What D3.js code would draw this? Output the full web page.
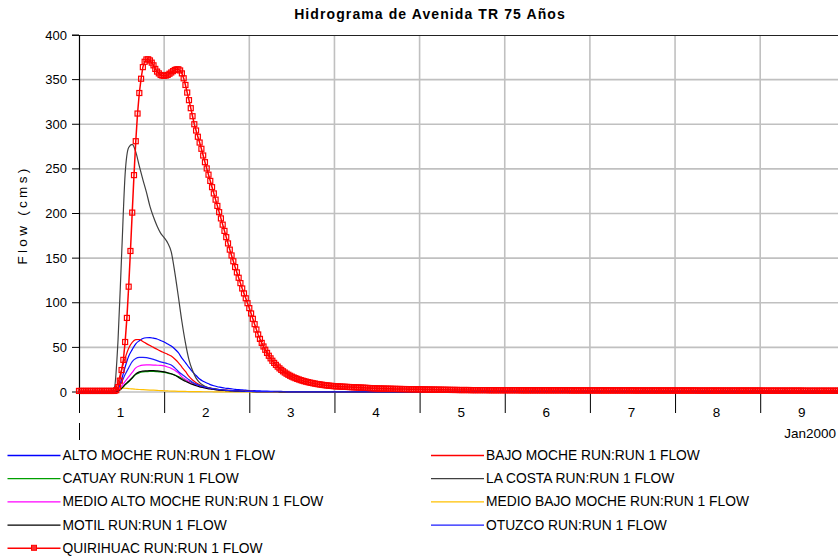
<!DOCTYPE html>
<html>
<head>
<meta charset="utf-8">
<script src="https://cdn.jsdelivr.net/npm/d3@7"></script>
<style>
  body { margin: 0; background: #fff; }
  svg { display: block; font-family: Arial, "Liberation Sans", sans-serif; }
</style>
</head>
<body>
<div id="chart"></div>
<script>
const chartTitle = "Hidrograma de Avenida TR 75 Años";
const yTicks = [0, 50, 100, 150, 200, 250, 300, 350, 400];
const dayLabels = ["1", "2", "3", "4", "5", "6", "7", "8", "9"];
const monthLabel = "Jan2000";

const seriesNames = [
  "ALTO MOCHE RUN:RUN 1 FLOW", "BAJO MOCHE RUN:RUN 1 FLOW",
  "CATUAY RUN:RUN 1 FLOW", "LA COSTA RUN:RUN 1 FLOW",
  "MEDIO ALTO MOCHE RUN:RUN 1 FLOW", "MEDIO BAJO MOCHE RUN:RUN 1 FLOW",
  "MOTIL RUN:RUN 1 FLOW", "OTUZCO RUN:RUN 1 FLOW",
  "QUIRIHUAC RUN:RUN 1 FLOW"
];

// hourly flows (cms), hour 0..72, last value = end of run (Jan 9 24:00)
const altoMoche = [0.1,0.1,0.1,0.1,0.1,0.1,0.1,0.1,0.1,
  0.3,0.8,4,14,28,40,47.5,54,57.5,60,60.8,
  61,60.3,59.4,57.7,56,53.7,51.5,48.2,44,38,
  33,27.5,22.5,18.5,14.5,12,10,8.3,7,5.9,
  5.2,4.5,4,3.5,3,2.6,2.3,2,1.7,1.5,
  1.3,1.2,1,0.9,0.8,0.7,0.6,0.6,0.5,0.5,
  0.4,0.4,0.4,0.3,0.3,0.3,0.3,0.2,0.2,0.2,
  0.2,0.2,0.2, 0.1];
const bajoMoche = [0.1,0.1,0.1,0.1,0.1,0.1,0.1,0.1,0.1,
  0.2,1.5,11,25,38,49,55.5,58.6,58.8,56.6,54.2,
  52,50,47.8,45.8,44,42.2,40.2,37,33,28,
  23,17.5,13.5,10.5,8.2,6.5,5.3,4.4,3.7,3.1,
  2.6,2.2,1.9,1.6,1.3,1.1,0.9,0.8,0.7,0.6,
  0.5,0.45,0.4,0.35,0.3,0.3,0.3,0.25,0.25,0.2,
  0.2,0.2,0.2,0.2,0.2,0.2,0.2,0.2,0.2,0.2,
  0.2,0.2,0.2, 0.1];
const catuay = [0.1,0.1,0.1,0.1,0.1,0.1,0.1,0.1,0.1,
  0.1,0.3,1,3.8,8,11.5,15.5,19.5,21.5,22.5,22.8,
  23,23,22.8,22.5,22,21.2,20.2,19,17.2,15.2,
  13.4,11.6,10,8.5,7.2,6,5,4.2,3.5,2.9,
  2.4,2,1.7,1.4,1.2,1,0.9,0.8,0.7,0.6,
  0.5,0.5,0.4,0.4,0.3,0.3,0.3,0.3,0.2,0.2,
  0.2,0.2,0.2,0.2,0.2,0.2,0.2,0.2,0.2,0.2,
  0.2,0.2,0.2, 0.1];
const laCosta = [0.1,0.1,0.1,0.1,0.1,0.1,0.1,0.1,0.1,
  0.3,5,58,152,244,274,277.5,269,253,238,224,
  208,196,186,178,173,167,157,134,107,79,
  55,36,24,15.5,10.5,7.5,5.5,4.3,3.4,2.7,
  2.2,1.8,1.5,1.3,1.1,0.9,0.8,0.7,0.6,0.5,
  0.5,0.4,0.4,0.4,0.3,0.3,0.3,0.3,0.2,0.2,
  0.2,0.2,0.2,0.2,0.2,0.2,0.2,0.2,0.2,0.2,
  0.2,0.2,0.2, 0.1];
const medioAltoMoche = [0.1,0.1,0.1,0.1,0.1,0.1,0.1,0.1,0.1,
  0.1,0.4,2,6.5,12,17,22,27,29.2,30.1,30.3,
  30.3,30.2,30,29.8,29.3,28,26.5,24.3,21.5,17,
  14,11.5,9.2,7.6,6.3,5.3,4.4,3.7,3.1,2.6,
  2.2,1.9,1.6,1.4,1.2,1,0.9,0.8,0.7,0.6,
  0.5,0.5,0.4,0.4,0.3,0.3,0.3,0.3,0.2,0.2,
  0.2,0.2,0.2,0.2,0.2,0.2,0.2,0.2,0.2,0.2,
  0.2,0.2,0.2, 0.1];
const medioBajoMoche = [0.1,0.1,0.1,0.1,0.1,0.1,0.1,0.1,0.1,
  0.3,1.5,5,4.6,4.2,3.8,3.4,3.1,2.8,2.6,2.4,
  2.2,2,1.8,1.6,1.4,1.2,1,0.9,0.8,0.7,
  0.6,0.5,0.45,0.4,0.35,0.3,0.3,0.3,0.25,0.25,
  0.2,0.2,0.2,0.2,0.2,0.2,0.2,0.2,0.2,0.2,
  0.2,0.2,0.2,0.2,0.2,0.2,0.2,0.2,0.2,0.2,
  0.1,0.1,0.1,0.1,0.1,0.1,0.1,0.1,0.1,0.1,
  0.1,0.1,0.1, 0.1];
const motil = [0.1,0.1,0.1,0.1,0.1,0.1,0.1,0.1,0.1,
  0.1,0.3,1,4,8.5,12,16,20.3,22.5,23.4,23.7,
  23.9,23.9,23.6,23.2,22.6,21.6,20.4,18.8,16.5,14,
  12,10.2,8.5,7,5.8,4.9,4.1,3.4,2.9,2.4,
  2,1.7,1.4,1.2,1,0.9,0.8,0.7,0.6,0.5,
  0.5,0.4,0.4,0.3,0.3,0.3,0.3,0.2,0.2,0.2,
  0.2,0.2,0.2,0.2,0.2,0.2,0.2,0.2,0.2,0.2,
  0.2,0.2,0.2, 0.1];
const otuzco = [0.1,0.1,0.1,0.1,0.1,0.1,0.1,0.1,0.1,
  0.2,0.7,3.5,11,19.5,27,34,37.5,38.8,38.9,38.5,
  37.6,36.5,35.2,33.8,32.8,31.7,30.2,27,23,19.8,
  16.8,13.7,11,8.8,7.2,6,5,4.2,3.6,3,
  2.5,2.1,1.8,1.5,1.3,1.1,0.9,0.8,0.7,0.6,
  0.5,0.5,0.4,0.4,0.4,0.3,0.3,0.3,0.3,0.2,
  0.2,0.2,0.2,0.2,0.2,0.2,0.2,0.2,0.2,0.2,
  0.2,0.2,0.2, 0.1];

// half-hourly flows (cms) for Quirihuac, step 0..432
const quirihuacFlow = [
  1.2,1.2,1.2,1.2,1.2,1.2,1.2,1.2,1.2,1.2,1.2,1.2,1.2,1.2,1.2,1.2,1.2,1.2,1.2,1.2,1.2,
  2,5.5,12.7,24.6,36,56,83,118,158,201,243,281,312,335,351,
  364,370,372.6,372.8,371.5,369,366,362,359,357,355.2,354.5,354.3,354.6,355.3,356.6,358,359.5,360.8,361.5,
  361.6,360.3,357,351.5,344,335.5,327,318,309,300,
  293,286,279.5,272.5,265,257.5,250.5,243.5,236.5,229.5,
  222.5,215.5,208.5,201.5,194.5,187.5,180.5,173.5,166.5,159.5,
  153,146.5,140,134,128,122,116,110.5,105,99.5,
  94,88,82,76,70,64.5,59.5,55,51,47.3,
  43.8,40.6,37.7,35,32.6,30.4,28.4,26.5,24.8,23.2,
  21.8,20.5,19.3,18.2,17.2,16.3,15.5,14.7,14,13.3,
  12.7,12.1,11.6,11.1,10.6,10.2,9.8,9.4,9,8.7,
  8.4,8.1,7.8,7.5,7.3,7.1,6.9,6.7,6.5,
  6.4,6.3,6.2,6,5.9,5.8,5.7,5.6,5.5,5.4,5.3,5.2,5.1,5,4.9,4.8,4.7,4.6,4.5,4.4,4.3,4.2,4.1,4,
  3.9,3.9,3.8,3.8,3.7,3.7,3.6,3.6,3.5,3.5,3.4,3.4,3.4,3.3,3.3,3.3,3.2,3.2,3.2,3.1,3.1,3.1,3,3,
  3,2.9,2.9,2.8,2.8,2.7,2.7,2.7,2.6,2.6,2.6,2.5,2.5,2.5,2.4,2.4,2.4,2.3,2.3,2.3,2.3,2.2,2.2,2.2,
  2.2,2.2,2.2,2.2,2.1,2.1,2.1,2.1,2.1,2.1,2.1,2.1,2.1,2.1,2,2,2,2,2,2,2,2,2,2,
  2,2,2,2,2,2,2,2,1.9,1.9,1.9,1.9,1.9,1.9,1.9,1.9,1.9,1.9,1.9,1.9,1.9,1.9,1.9,1.9,
  1.9,1.9,1.9,1.9,1.9,1.9,1.9,1.9,1.9,1.9,1.9,1.9,1.8,1.8,1.8,1.8,1.8,1.8,1.8,1.8,1.8,1.8,1.8,1.8,
  1.8,1.8,1.8,1.8,1.8,1.8,1.8,1.8,1.8,1.8,1.8,1.8,1.8,1.8,1.8,1.8,1.8,1.8,1.8,1.8,1.8,1.8,1.8,1.8,
  1.7,1.7,1.7,1.7,1.7,1.7,1.7,1.7,1.7,1.7,1.7,1.7,1.7,1.7,1.7,1.7,1.7,1.7,1.7,1.7,1.7,1.7,1.7,1.7,
  1.7,1.7,1.7,1.7,1.7,1.7,1.7,1.7,1.7,1.7,1.7,1.7,1.6,1.6,1.6,1.6,1.6,1.6,1.6,1.6,1.6,1.6,1.6,1.6,
  1.6,1.6,1.6,1.6,1.6,1.6,1.6,1.6,1.6,1.6,1.6,1.6,1.6,1.6,1.6,1.6,1.6,1.6,1.6,1.6,1.6,1.6,1.6,1.6,
  1.5,1.5,1.5,1.5,1.5,1.5,1.5,1.5,1.5,1.5,1.5,1.5,1.5,1.5,1.5,1.5,1.5,1.5,1.5,1.5,1.5,1.5,1.5,1.5,
  1.4,1.4,1.4,1.4,1.4,1.4,1.4,1.4,1.4,1.4,1.4,1.4,1.4,1.4,1.4,1.4,1.4,1.4,1.4,1.4,1.4,1.4,1.4,1.4
];

const hourlySeries = [altoMoche, bajoMoche, catuay, laCosta, medioAltoMoche, medioBajoMoche, motil, otuzco];
const seriesColors = ["#0000ff", "#ff0000", "#00a000", "#404040", "#ff00ff", "#ffc000", "#000000", "#1c1cff", "#ff0000"];

// ---- layout ----
const W = 838, H = 560;
const plot = {left: 79, top: 35, bottom: 392, dayPx: 85.15};

const svg = d3.select("#chart").append("svg")
  .attr("width", W).attr("height", H);

const x = d3.scaleLinear().domain([0, 9]).range([plot.left, plot.left + 9 * plot.dayPx]);
const y = d3.scaleLinear().domain([0, 400]).range([plot.bottom, plot.top]);

// title
svg.append("text")
  .attr("x", 430).attr("y", 19)
  .attr("text-anchor", "middle")
  .style("font-weight", "bold").style("font-size", "14px")
  .style("letter-spacing", "1.1px")
  .text(chartTitle);

// grid
const grid = svg.append("g").attr("stroke", "#c0c0c0").attr("stroke-width", 1.6);
grid.selectAll("line.hg").data(yTicks.filter(d => d < 400)).join("line")
  .attr("class", "hg")
  .attr("x1", plot.left).attr("x2", W)
  .attr("y1", d => y(d)).attr("y2", d => y(d));
grid.selectAll("line.vg").data(d3.range(1, 10)).join("line")
  .attr("class", "vg")
  .attr("x1", d => x(d)).attr("x2", d => x(d))
  .attr("y1", plot.top).attr("y2", plot.bottom);

// frame: top border and left axis
svg.append("line").attr("x1", plot.left - 7).attr("x2", W)
  .attr("y1", plot.top + 0.5).attr("y2", plot.top + 0.5)
  .attr("stroke", "#222").attr("stroke-width", 1.2);
svg.append("line").attr("x1", plot.left + 0.5).attr("x2", plot.left + 0.5)
  .attr("y1", plot.top).attr("y2", plot.bottom)
  .attr("stroke", "#000").attr("stroke-width", 1.2);

// y axis ticks + labels
const yAx = svg.append("g");
yAx.selectAll("line").data(yTicks).join("line")
  .attr("x1", plot.left - 7).attr("x2", plot.left)
  .attr("y1", d => y(d)).attr("y2", d => y(d))
  .attr("stroke", "#000");
yAx.selectAll("text").data(yTicks).join("text")
  .attr("x", plot.left - 12).attr("y", d => y(d) + 4.5)
  .attr("text-anchor", "end").style("font-size", "13px")
  .text(d => d);

svg.append("text")
  .attr("transform", "translate(27,215) rotate(-90)")
  .attr("text-anchor", "middle").style("font-size", "13.5px")
  .style("letter-spacing", "3.3px")
  .text("Flow (cms)");

// x axis: day ticks and labels
const xAx = svg.append("g");
xAx.selectAll("line").data(d3.range(0, 10)).join("line")
  .attr("x1", d => x(d) + 0.5).attr("x2", d => x(d) + 0.5)
  .attr("y1", plot.bottom).attr("y2", plot.bottom + 21)
  .attr("stroke", "#000");
xAx.selectAll("text").data(dayLabels).join("text")
  .attr("x", (d, i) => x(i + 0.5) - 1).attr("y", 417)
  .attr("text-anchor", "middle").style("font-size", "13.5px")
  .text(d => d);
svg.append("line")
  .attr("x1", plot.left + 0.5).attr("x2", plot.left + 0.5)
  .attr("y1", 423).attr("y2", 440).attr("stroke", "#000");
svg.append("text")
  .attr("x", 836).attr("y", 438)
  .attr("text-anchor", "end").style("font-size", "13.5px")
  .text(monthLabel);

// series
const lines = svg.append("g");
const smoothLine = d3.line().x(d => x(d.t)).y(d => y(d.v)).curve(d3.curveMonotoneX);
hourlySeries.forEach((vals, i) => {
  const pts = vals.map((v, h) => ({t: h < vals.length - 1 ? h / 24 : 9, v}));
  lines.append("path").datum(pts)
    .attr("fill", "none").attr("stroke", seriesColors[i]).attr("stroke-width", 1.2)
    .attr("d", smoothLine);
});

const qPts = quirihuacFlow.map((v, k) => ({t: k / 48, v}));
const straight = d3.line().x(d => x(d.t)).y(d => y(d.v));
lines.append("path").datum(qPts)
  .attr("fill", "none").attr("stroke", seriesColors[8]).attr("stroke-width", 1.5)
  .attr("d", straight);
lines.append("g").selectAll("rect").data(qPts).join("rect")
  .attr("x", d => x(d.t) - 2.5).attr("y", d => y(d.v) - 2.5)
  .attr("width", 5).attr("height", 5)
  .attr("fill", "none").attr("stroke", seriesColors[8]).attr("stroke-width", 1.2);

// legend
const legend = svg.append("g").style("font-size", "13.8px");
const items = legend.selectAll("g.item").data(seriesNames).join("g")
  .attr("class", "item")
  .attr("transform", (d, i) => `translate(${i % 2 === 0 ? 7.5 : 431},${460 + Math.floor(i / 2) * 23.2})`);
items.append("line")
  .attr("x1", 0).attr("x2", 53)
  .attr("y1", -4.5).attr("y2", -4.5)
  .style("stroke", (d, i) => seriesColors[i])
  .attr("stroke-width", (d, i) => i === 8 ? 1.5 : 1.3);
items.filter((d, i) => i === 8).append("rect")
  .attr("x", 24).attr("y", -7.5)
  .attr("width", 5).attr("height", 5)
  .attr("fill", "#ff3030").attr("stroke", seriesColors[8]);
items.append("text")
  .attr("x", 55).attr("y", 0)
  .text(d => d);
</script>
</body>
</html>
